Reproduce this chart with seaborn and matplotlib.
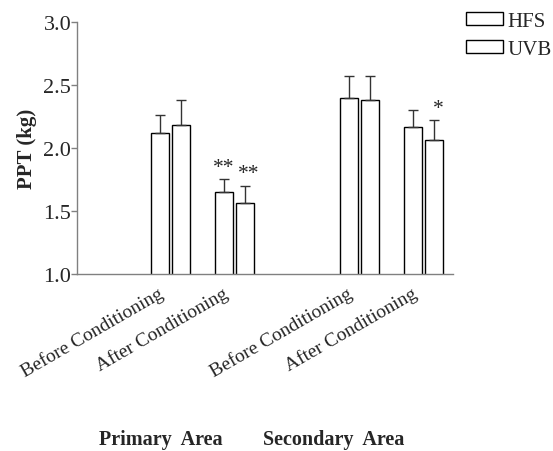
import matplotlib
matplotlib.use("Agg")
import matplotlib.pyplot as plt
import matplotlib.transforms as mtransforms
import seaborn as sns
import pandas as pd

areas = ["Primary Area", "Secondary Area"]
conditions = ["Before Conditioning", "After Conditioning"]
treatments = ["HFS", "UVB"]
# PPT means, order: (area, condition) x treatment
hfs_mean = [2.12, 1.65, 2.40, 2.17]
uvb_mean = [2.18, 1.56, 2.38, 2.06]
hfs_err = [0.14, 0.10, 0.17, 0.13]
uvb_err = [0.20, 0.14, 0.19, 0.16]
hfs_sig = ["", "**", "", ""]
uvb_sig = ["", "**", "", "*"]

sns.set_style("ticks")
plt.rcParams["font.family"] = ["Liberation Serif", "DejaVu Serif"]

rows = []
i = 0
for a, area in enumerate(areas):
    for c, cond in enumerate(conditions):
        pos = a * 2.95 + c
        rows.append([pos, cond, area, "HFS", hfs_mean[i], hfs_err[i], hfs_sig[i]])
        rows.append([pos, cond, area, "UVB", uvb_mean[i], uvb_err[i], uvb_sig[i]])
        i += 1
df = pd.DataFrame(rows, columns=["pos", "cond", "area", "treat", "ppt", "err", "sig"])

fig = plt.figure(figsize=(5.53, 4.52), dpi=100)
ax = fig.add_axes([0.139, 0.392, 0.680, 0.557])

sns.barplot(data=df, x="pos", y="ppt", hue="treat", hue_order=treatments,
            native_scale=True, palette={"HFS": "white", "UVB": "white"},
            saturation=1, edgecolor="black", linewidth=1.0,
            width=0.66, gap=0.12, errorbar=None, ax=ax)

# error bars (upper only) and significance marks at the bar centres
for k, t in enumerate(treatments):
    sub = df[df["treat"] == t]
    bars = ax.containers[k]
    for bar, (_, r) in zip(bars, sub.iterrows()):
        xc = bar.get_x() + bar.get_width() / 2
        ax.errorbar(xc, r["ppt"], yerr=[[0], [r["err"]]], fmt="none",
                    ecolor="#333333", elinewidth=1.0, capsize=3.8, capthick=1.0)
        if r["sig"]:
            ax.text(xc + 0.06 * k, r["ppt"] + r["err"] + 0.02, r["sig"],
                    ha="center", va="bottom", fontsize=15.5)

ax.set_ylim(1.0, 3.0)
ax.set_xlim(-1.46, 4.41)
ax.set_yticks([1.0, 1.5, 2.0, 2.5, 3.0])
ax.set_yticklabels(["1.0", "1.5", "2.0", "2.5", "3.0"], fontsize=16)
ax.set_ylabel("PPT (kg)", fontsize=15, fontweight="bold")
ax.yaxis.set_label_coords(-0.106, 0.5)
ax.set_xlabel("")

xt = df.drop_duplicates("pos")
ax.set_xticks(xt["pos"].tolist())
ax.set_xticklabels(xt["cond"].tolist(), rotation=30, ha="right", va="center",
                   rotation_mode="anchor", fontsize=14)
ax.tick_params(axis="x", length=0, pad=13)
ax.tick_params(axis="y", length=4, color="#808080", width=1, pad=0)
shift = mtransforms.ScaledTranslation(-8 / 100, 0, fig.dpi_scale_trans)
for lab in ax.get_xticklabels():
    lab.set_transform(lab.get_transform() + shift)

sns.despine(ax=ax)
for s in ["left", "bottom"]:
    ax.spines[s].set_color("#808080")
    ax.spines[s].set_linewidth(1.0)

for a, area in enumerate(areas):
    fig.text([0.29, 0.603][a], 0.004, area.replace(" ", "  "), ha="center",
             va="bottom", fontsize=14.5, fontweight="bold")

handles = ax.containers[0][0], ax.containers[1][0]
if ax.get_legend():
    ax.get_legend().remove()
fig.legend(handles, treatments, loc="upper left", bbox_to_anchor=(0.842, 0.972),
           frameon=False, fontsize=15, handlelength=1.8, handleheight=0.55,
           handletextpad=0.2, labelspacing=0.45, borderpad=0.0, borderaxespad=0.0)

fig.savefig("out.png", dpi=100)
